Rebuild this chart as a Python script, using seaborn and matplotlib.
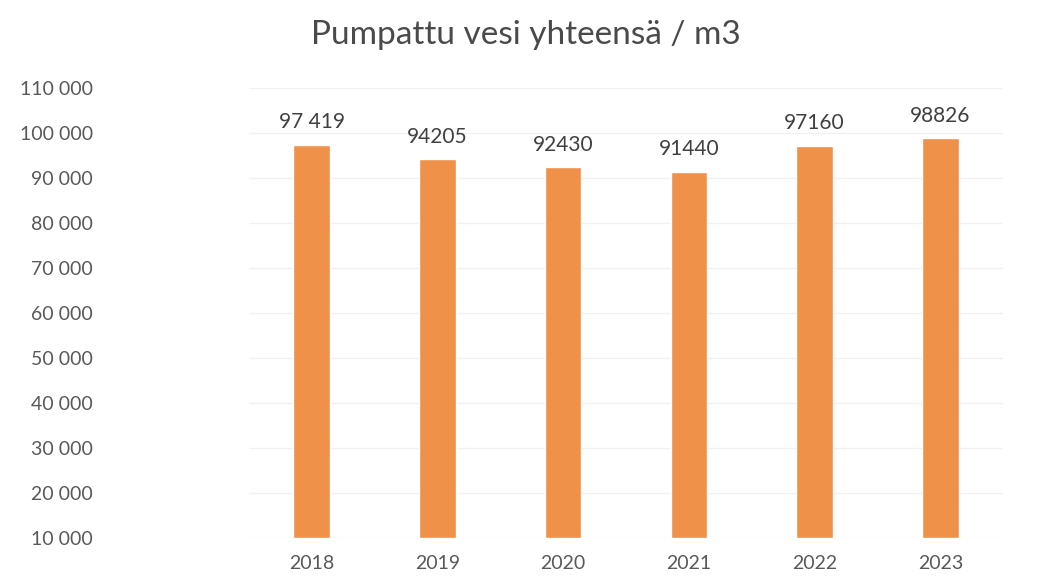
import matplotlib
matplotlib.use("Agg")
import matplotlib.pyplot as plt
import seaborn as sns
import pandas as pd

years = ["2018", "2019", "2020", "2021", "2022", "2023"]
volumes = [97419, 94205, 92430, 91440, 97160, 98826]
value_labels = ["97 419", "94205", "92430", "91440", "97160", "98826"]
y_ticks = [10000, 20000, 30000, 40000, 50000, 60000, 70000, 80000, 90000, 100000, 110000]
y_tick_labels = ["10 000", "20 000", "30 000", "40 000", "50 000", "60 000",
                 "70 000", "80 000", "90 000", "100 000", "110 000"]
title = "Pumpattu vesi yhteensä / m3"

sns.set_theme(style="white")
plt.rcParams["font.family"] = ["Lato", "DejaVu Sans"]

df = pd.DataFrame({"year": years, "volume": volumes})
base = 10000
df["height"] = df["volume"] - base

fig = plt.figure(figsize=(10.45, 5.76), dpi=100)
ax = fig.add_axes([0.238, 0.066, 0.722, 0.781])

sns.barplot(data=df, x="year", y="height", bottom=base, color="#F0914A",
            saturation=1, width=0.29, ax=ax)

ax.set_ylim(10000, 110000)
ax.set_xlim(-0.5, 5.5)
ax.set_yticks(y_ticks)
ax.set_yticklabels(y_tick_labels)
ax.yaxis.grid(True, color="#f1f1f1", linewidth=1)
ax.set_axisbelow(True)
for s in ax.spines.values():
    s.set_visible(False)
ax.tick_params(axis="y", length=0, pad=112, labelsize=14, labelcolor="#595959")
ax.tick_params(axis="x", length=0, pad=12, labelsize=14, labelcolor="#595959")
ax.set_xlabel("")
ax.set_ylabel("")

for i, (v, lab) in enumerate(zip(volumes, value_labels)):
    ax.annotate(lab, (i, v), xytext=(0, 9), textcoords="offset points",
                ha="center", va="bottom", fontsize=15, color="#404040")

fig.text(0.503, 0.94, title, ha="center", va="center", fontsize=24,
         fontweight="normal", color="#4a4a4a")

fig.savefig("out.png", dpi=100, facecolor="white")
